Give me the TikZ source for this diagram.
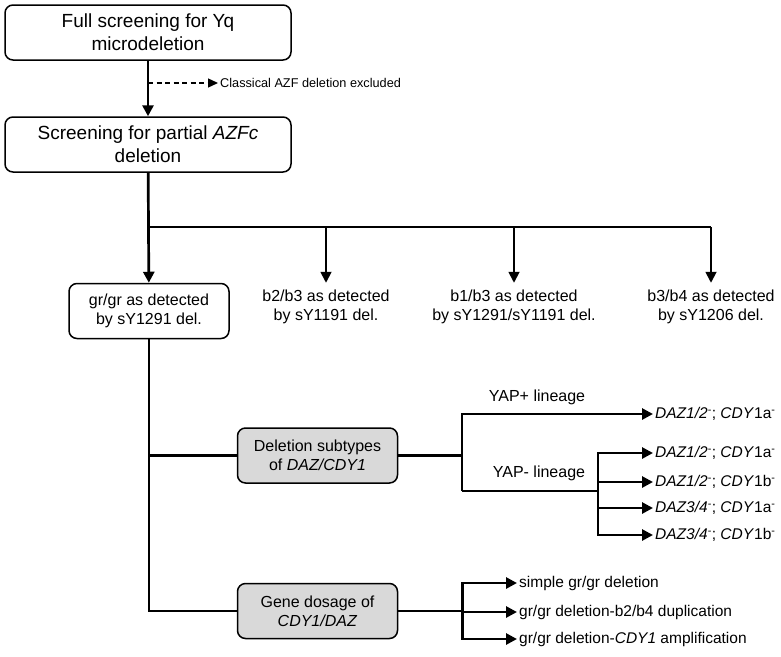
\documentclass[tikz,border=0pt]{standalone}
\usepackage{fontspec}
\setmainfont{Liberation Sans}
\usetikzlibrary{positioning}
\usetikzlibrary{calc}
\usetikzlibrary{arrows.meta}
\newcommand{\gene}[1]{\textit{#1}}
\newcommand{\delsup}{\textsuperscript{-}}
\tikzset{
    bigbox/.style = {rectangle, rounded corners=8pt, draw, line width=1.5pt, fill=white,
        minimum width=286pt, minimum height=55pt, align=center, font=\fontsize{19}{23}\selectfont},
    midbox/.style = {rectangle, rounded corners=8pt, draw, line width=1.5pt, fill=white,
        minimum width=160pt, minimum height=55pt, align=center, font=\fontsize{16}{19}\selectfont},
    greybox/.style = {midbox, fill=gray!30},
    txt/.style = {align=center, inner sep=2pt, font=\fontsize{16}{19}\selectfont},
    smalltxt/.style = {inner sep=2pt, font=\fontsize{12.7}{15}\selectfont},
    outcome/.style = {anchor=west, inner sep=2pt, font=\fontsize{15.5}{18}\selectfont},
    mainline/.style = {line width=2.7pt},
    thinline/.style = {line width=1.8pt},
    tip/.style = {-{Triangle[length=11pt,width=11pt]}},
    smalltip/.style = {-{Triangle[length=10pt,width=9pt]}}}
\begin{document}
\begin{tikzpicture}[x=1pt,y=-1pt]
    \useasboundingbox (0,0) rectangle (781,656);
    \path (148,32.5) node[bigbox] (full) {Full screening for Yq\\microdeletion}
        ++ (0,112) node[bigbox] (azfc) {Screening for partial \gene{AZFc}\\deletion};
    \coordinate (excl) at (148,83);
    \node[smalltxt, anchor=west] (classic) at (218,83) {Classical AZF deletion excluded};
    \coordinate (split) at (148,227);
    \path (149,311) node[midbox] (grgr) {gr/gr as detected\\by sY1291 del.}
        + (177,-4) node[txt] (b2b3) {b2/b3 as detected\\by sY1191 del.}
        + (365,-4) node[txt] (b1b3) {b1/b3 as detected\\by sY1291/sY1191 del.}
        + (562,-4) node[txt] (b3b4) {b3/b4 as detected\\by sY1206 del.};
    \path (317.5,455.5) node[greybox] (subtypes) {Deletion subtypes\\of \gene{DAZ/CDY1}}
        ++ (0,155.5) node[greybox] (dosage) {Gene dosage of\\\gene{CDY1/DAZ}};
    % lineages
    \coordinate (fork1) at ($(subtypes.east)+(64,0)$);
    \coordinate (fork2) at (462,491);
    \coordinate (fork3) at (598,491);
    \node[txt] (yapplus) at (537,397) {YAP+ lineage};
    \node[txt] (yapminus) at (539,473) {YAP- lineage};
    \node[outcome] (plus) at (653,414) {\gene{DAZ1/2}\delsup; \gene{CDY}1a\delsup};
    \node[outcome] (m1) at (653,453) {\gene{DAZ1/2}\delsup; \gene{CDY}1a\delsup};
    \node[outcome] (m2) at (653,482) {\gene{DAZ1/2}\delsup; \gene{CDY}1b\delsup};
    \node[outcome] (m3) at (653,508) {\gene{DAZ3/4}\delsup; \gene{CDY}1a\delsup};
    \node[outcome] (m4) at (653,535) {\gene{DAZ3/4}\delsup; \gene{CDY}1b\delsup};
    % dosage
    \coordinate (fork4) at ($(dosage.east)+(64,0)$);
    \node[outcome] (simple) at (517,583) {simple gr/gr deletion};
    \node[outcome] (dup) at (517,612) {gr/gr deletion-b2/b4 duplication};
    \node[outcome] (amp) at (517,639) {gr/gr deletion-\gene{CDY1} amplification};
    % connectors
    \draw[mainline, tip] (full) -- (azfc);
    \draw[line width=1.3pt, dash pattern=on 5pt off 3.5pt, smalltip] (excl) -- (classic);
    \draw[mainline, tip] (azfc) -- (grgr);
    \draw[thinline] (split) -- (split -| b3b4);
    \foreach \b in {b2b3, b1b3, b3b4}
        \draw[thinline, tip] (split -| \b) -- (\b |- grgr.north);
    \draw[mainline] (grgr) |- (dosage);
    \draw[mainline] (grgr |- subtypes) -- (subtypes);
    \draw[mainline] (subtypes) -- (fork1);
    \draw[mainline, tip] (fork2) |- (plus);
    \draw[mainline] (fork2) -- (fork3);
    \foreach \g in {m1, m2, m3, m4}
        \draw[mainline, tip] (fork3) |- (\g);
    \draw[mainline] (dosage) -- (fork4);
    \foreach \g in {simple, dup, amp}
        \draw[mainline, tip] (fork4) |- (\g);
\end{tikzpicture}
\end{document}
